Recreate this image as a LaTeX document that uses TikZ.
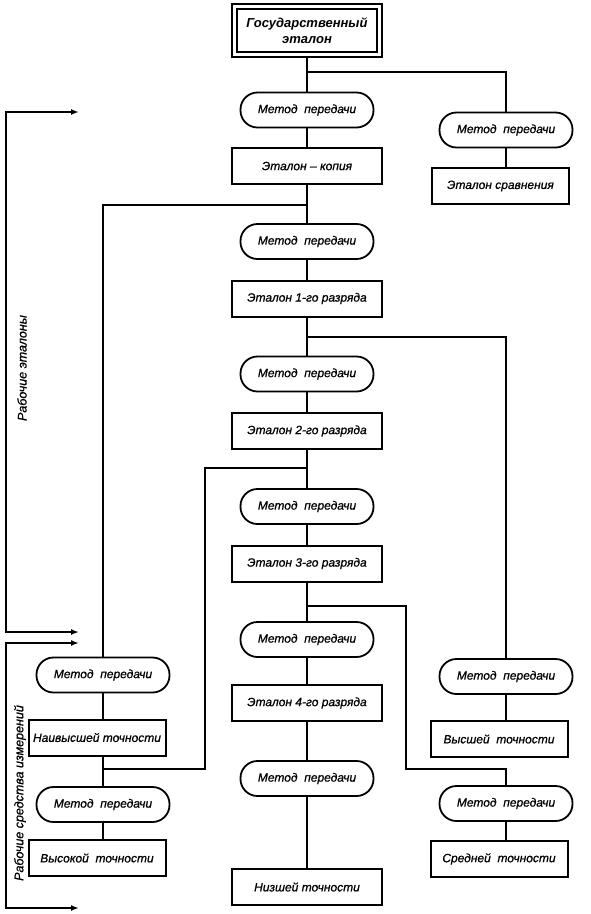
\documentclass[tikz,border=0pt]{standalone}
\usepackage{fontspec}
\setmainfont{Liberation Sans}
\newfontfamily\scanit{Liberation Sans Italic}[FakeBold=0.8]
\usetikzlibrary{arrows.meta}

\tikzset{
  metod/.style={draw, line width=1.8pt, rounded corners=17pt, minimum width=133pt,
    minimum height=35pt, inner sep=0pt, font=\fontsize{12}{14}\scanit},
  etal/.style={draw, line width=2pt, minimum width=150pt, minimum height=36pt,
    inner sep=0pt, font=\fontsize{12}{14}\scanit},
  sidebox/.style={etal, minimum width=137pt},
  glavn/.style={draw, line width=2pt, double, double distance=3pt, minimum width=145pt,
    minimum height=48pt, inner sep=0pt, align=center,
    font=\fontsize{13}{16}\selectfont\bfseries\itshape},
  link/.style={line width=1.6pt},
  bracket/.style={line width=1.6pt, {Latex[length=8pt,width=6pt]}-{Latex[length=8pt,width=6pt]}},
  sidelbl/.style={rotate=90, font=\fontsize{12.5}{14}\scanit}
}

\begin{document}
\begin{tikzpicture}[x=1pt, y=-1pt]
  \useasboundingbox (0,0) rectangle (591,914);

  % central chain
  \node[glavn] (gos) at (307,30.5) {Государственный\\эталон};
  \node[metod] (m1) at (307,110) {Метод\ \ передачи};
  \node[etal] (kop) at (307,166) {Эталон – копия};
  \node[metod] (m2) at (307,241.5) {Метод\ \ передачи};
  \node[etal] (r1) at (307,298.5) {Эталон 1-го разряда};
  \node[metod] (m3) at (307,374) {Метод\ \ передачи};
  \node[etal] (r2) at (307,431) {Эталон 2-го разряда};
  \node[metod] (m4) at (307,506.5) {Метод\ \ передачи};
  \node[etal] (r3) at (307,563.5) {Эталон 3-го разряда};
  \node[metod] (m5) at (307,639.5) {Метод\ \ передачи};
  \node[etal] (r4) at (307,703) {Эталон 4-го разряда};
  \node[metod] (m6) at (307,778.5) {Метод\ \ передачи};
  \node[etal] (niz) at (307,887) {Низшей точности};

  % right column
  \node[metod] (pm1) at (506,130) {Метод\ \ передачи};
  \node[sidebox] (srav) at (500.5,186) {Эталон сравнения};
  \node[metod] (pm2) at (506,676.5) {Метод\ \ передачи};
  \node[sidebox] (vyssh) at (499,739) {Высшей\ \ точности};
  \node[metod] (pm3) at (506,803.5) {Метод\ \ передачи};
  \node[sidebox] (sred) at (499,859) {Средней\ \ точности};

  % left column
  \node[metod] (lm1) at (103,675) {Метод\ \ передачи};
  \node[sidebox] (naiv) at (97,737.5) {Наивысшей точности};
  \node[metod] (lm2) at (103,804.5) {Метод\ \ передачи};
  \node[sidebox] (vysok) at (97,858) {Высокой\ \ точности};

  % branch points
  \coordinate (b1) at (307,72);
  \coordinate (b2) at (307,205);
  \coordinate (b3) at (307,337);
  \coordinate (b4) at (307,468);
  \coordinate (b5) at (307,606);
  \coordinate (j1) at (205,769);
  \coordinate (j2) at (406,769);
  \coordinate (jl) at (103,769);

  \draw[link] (gos) -- (m1);
  \draw[link] (m1) -- (kop);
  \draw[link] (kop) -- (m2);
  \draw[link] (m2) -- (r1);
  \draw[link] (r1) -- (m3);
  \draw[link] (m3) -- (r2);
  \draw[link] (r2) -- (m4);
  \draw[link] (m4) -- (r3);
  \draw[link] (r3) -- (m5);
  \draw[link] (m5) -- (r4);
  \draw[link] (r4) -- (m6);
  \draw[link] (m6) -- (niz);

  \draw[link] (b1) -| (pm1.north);
  \draw[link] (pm1.south) -- (pm1.south |- srav.north);
  \draw[link] (b2) -| (lm1.north);
  \draw[link] (lm1.south) -- (lm1.south |- naiv.north);
  \draw[link] (naiv.south -| lm2) -- (lm2.north);
  \draw[link] (lm2.south) -- (lm2.south |- vysok.north);
  \draw[link] (b3) -| (pm2.north);
  \draw[link] (pm2.south) -- (pm2.south |- vyssh.north);
  \draw[link] (b4) -| (j1) -- (jl);
  \draw[link] (b5) -| (j2) -| (pm3.north);
  \draw[link] (pm3.south) -- (pm3.south |- sred.north);

  % side brackets
  \coordinate (ra1) at (79,112);
  \coordinate (ra2) at (79,632);
  \coordinate (rb1) at (79,643);
  \coordinate (rb2) at (79,908);
  \draw[bracket] (ra1) -- ++(-73,0) |- (ra2);
  \draw[bracket] (rb1) -- ++(-73,0) |- (rb2);
  \node[sidelbl] (rab) at (22,368) {Рабочие эталоны};
  \node[sidelbl] (sred-izm) at (20,793) {Рабочие средства измерений};
\end{tikzpicture}
\end{document}
